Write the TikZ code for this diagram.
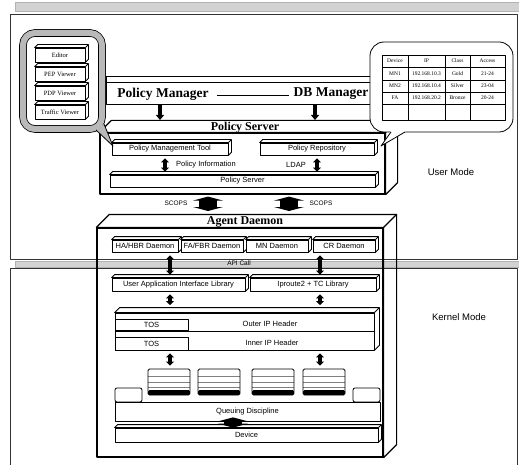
\documentclass[tikz,border=0pt]{standalone}
\usepackage{fontspec}
\setmainfont{Liberation Serif}
\setsansfont{Liberation Sans}
\usetikzlibrary{arrows.meta, positioning, calc}

% top and side faces of a flat 3D box drawn round a node
\newcommand\slabfaces[3][thick,fill=white]{%
  \draw[#1] (#2.north west) -- ++(#3,#3) -- ([shift={(#3,#3)}]#2.north east)
    -- ([shift={(#3,#3)}]#2.south east) -- (#2.south east) -- (#2.north east) -- cycle;
  \draw[#1] (#2.north east) -- ++(#3,#3);}

\tikzset{
  slab/.style={draw, thick, fill=white, inner sep=0pt, font=\sffamily\fontsize{7.5}{8}\selectfont},
  viewer/.style={draw, thick, fill=white, inner sep=0pt, minimum width=50pt, minimum height=14pt,
    font=\fontsize{6.5}{7}\selectfont},
  head/.style={inner sep=0pt, font=\bfseries\fontsize{12}{13}\selectfont},
  lbl/.style={inner sep=1pt, font=\sffamily\fontsize{7.5}{8}\selectfont},
  cell/.style={inner sep=0pt, font=\fontsize{5.5}{6}\selectfont},
  band/.style={fill=gray!35, draw=gray!60},
  updown/.style={{Triangle[width=8pt,length=4pt]}-{Triangle[width=8pt,length=4pt]},
    line width=3.5pt, shorten <=3pt, shorten >=3pt},
  down/.style={-{Triangle[width=8pt,length=5pt]}, line width=3.5pt},
  wide/.style={{Triangle[width=30pt,length=4pt]}-{Triangle[width=30pt,length=4pt]},
    line width=18pt, shorten <=2pt, shorten >=2pt},
  queue/.style={draw, thick, fill=white, rounded corners=1.5pt, minimum width=42pt,
    minimum height=26pt, inner sep=0pt,
    path picture={
      \foreach \f in {0.3,0.5,0.7}
        \draw[gray] ($(path picture bounding box.north west)!\f!(path picture bounding box.south west)$)
          -- ($(path picture bounding box.north east)!\f!(path picture bounding box.south east)$);
      \fill[black] ($(path picture bounding box.south west)+(0,5pt)$) rectangle (path picture bounding box.south east);}}
}

\begin{document}
\begin{tikzpicture}[x=1pt, y=-1pt, line join=round]
  \useasboundingbox (0,0) rectangle (519,465);

  % user mode / kernel mode frames
  \draw[band] (15,2) rectangle (519,11);
  \draw[band] (15,261) rectangle (519,267);
  \draw[black!80] (10,259) |- (517,14) -- (517,259) -- cycle;
  \draw[black!80] (10,465) |- (517,268) -- (517,465);

  \coordinate (xa) at (160,0);
  \coordinate (xb) at (315,0);
  \coordinate (xc) at (165,0);
  \coordinate (xl) at (170,0);
  \coordinate (xr) at (320,0);
  \coordinate (xs1) at (208,0);
  \coordinate (xs2) at (289,0);
  \coordinate (xq) at (233,0);

  % policy manager
  \node[draw, thick, fill=white, minimum width=286pt, minimum height=28pt] (pm) at (249,90) {};
  \draw[thick] ([yshift=-7pt]pm.north west) -- ([yshift=-7pt]pm.north east);
  \node[head, font=\bfseries\fontsize{13.5}{14}\selectfont] (pmtxt) at (163,94) {Policy Manager};
  \node[head, font=\bfseries\fontsize{13.5}{14}\selectfont] (dbm) at (331,94) {DB Manager};
  \draw[thick, shorten <=8pt, shorten >=4pt] ([yshift=-1pt]pmtxt.east) -- ([yshift=-1pt]dbm.west);

  % policy server
  \node[draw, very thick, minimum width=285pt, minimum height=61pt] (ps) at (242.5,163.5) {};
  \slabfaces[very thick]{ps}{12pt}
  \node[head] (pstitle) at (245,127.5) {Policy Server};
  \coordinate (pstop) at (0,120);
  \draw[down] (pm.south -| xa) -- (pstop -| xa);
  \draw[down] (pm.south -| xb) -- (pstop -| xb);

  \node[slab, minimum width=116pt, minimum height=12pt] (pmt) at (170,149) {Policy Management Tool};
  \slabfaces{pmt}{3pt}
  \node[slab, minimum width=114pt, minimum height=12pt] (prep) at (317,149) {Policy Repository};
  \slabfaces{prep}{3pt}
  \node[slab, minimum width=265pt, minimum height=12pt] (psbar) at (242.5,181) {Policy Server};
  \slabfaces{psbar}{3pt}
  \node[lbl, anchor=west] (info) at (175,165) {Policy Information};
  \node[lbl, anchor=east] (ldap) at (307,165) {LDAP};
  \draw[updown] (pmt.south -| xc) -- (psbar.north -| xc);
  \draw[updown] (prep.south) -- (prep.south |- psbar.north);

  % viewers
  \node[draw, thick, double=gray!55, double distance=6pt, rounded corners=12pt, fill=white,
    minimum width=79pt, minimum height=96pt] (vw) at (62.5,81) {};
  \node[viewer] (ed) at (60,55) {Editor};
  \slabfaces{ed}{3pt}
  \node[viewer] (pep) at (60,74) {PEP Viewer};
  \slabfaces{pep}{3pt}
  \node[viewer] (pdp) at (60,93) {PDP Viewer};
  \slabfaces{pdp}{3pt}
  \node[viewer] (trf) at (60,112) {Traffic Viewer};
  \slabfaces{trf}{3pt}
  \filldraw[fill=gray!55, thick] (96,130) -- (113,146) -- (104,124);

  % repository table
  \node[draw, thick, fill=white, rounded corners=14pt, minimum width=143pt, minimum height=90pt] (bub) at (441.5,87) {};
  \fill[white] (391,131) -- (381,146) -- (406,131) -- cycle;
  \draw[thick] (391,132) -- (381,146) -- (405,132);
  \draw[thick] (382,55) rectangle (505,120);
  \foreach \y in {67,80,92,104} \draw (382,\y) -- (505,\y);
  \foreach \x in {408,445,470} \draw[thick] (\x,55) -- (\x,120);
  \foreach \r/\y/\va/\vb/\vc/\vd in {0/61/Device/IP/Class/Access,
      1/73.5/MN1/192.168.10.3/Gold/21-24, 2/86/MN2/192.168.10.4/Silver/23-04,
      3/98/FA/192.168.20.2/Bronze/20-24} {
    \node[cell] (dv\r) at (395,\y) {\va};
    \node[cell] (ip\r) at (426.5,\y) {\vb};
    \node[cell] (cl\r) at (457.5,\y) {\vc};
    \node[cell] (ac\r) at (487.5,\y) {\vd};
  }

  % agent daemon
  \node[lbl, font=\sffamily\fontsize{6.5}{7}\selectfont] (scopsl) at (176,203) {SCOPS};
  \node[lbl, font=\sffamily\fontsize{6.5}{7}\selectfont] (scopsr) at (321,203) {SCOPS};
  \node[draw, very thick, minimum width=286pt, minimum height=229pt] (ad) at (240,342.5) {};
  \slabfaces[very thick]{ad}{13pt}
  \node[head] (adtitle) at (245,221.5) {Agent Daemon};
  \coordinate (adtop) at (0,213);
  \draw[wide] (ps.south -| xs1) -- (adtop -| xs1);
  \draw[wide] (ps.south -| xs2) -- (adtop -| xs2);

  \node[slab, minimum width=66pt, minimum height=12pt] (ha) at (145,246) {HA/HBR Daemon};
  \slabfaces{ha}{3pt}
  \node[slab, minimum width=62pt, minimum height=12pt] (fa) at (212,246) {FA/FBR Daemon};
  \slabfaces{fa}{3pt}
  \node[slab, minimum width=62pt, minimum height=12pt] (mn) at (277,246) {MN Daemon};
  \slabfaces{mn}{3pt}
  \node[slab, minimum width=62pt, minimum height=12pt] (cr) at (344,246) {CR Daemon};
  \slabfaces{cr}{3pt}
  \node[lbl, font=\sffamily\fontsize{6.5}{7}\selectfont] (api) at (239,263.5) {API Call};

  % kernel part
  \node[slab, minimum width=133pt, minimum height=13pt] (uail) at (178.5,284.5) {User Application Interface Library};
  \slabfaces{uail}{3pt}
  \node[slab, minimum width=126pt, minimum height=13pt] (iptc) at (313,284.5) {Iproute2 + TC Library};
  \slabfaces{iptc}{3pt}
  \draw[updown] (ha.south -| xl) -- (uail.north -| xl);
  \draw[updown] (cr.south -| xr) -- (iptc.north -| xr);

  \node[slab, minimum width=259pt, minimum height=37pt] (hdr) at (244.5,331.5) {};
  \slabfaces{hdr}{5pt}
  \draw[thick] (hdr.west) -- (hdr.east);
  \node[slab, thin, minimum width=73pt, minimum height=11pt] (tos1) at (151.5,324.5) {TOS};
  \node[slab, thin, minimum width=73pt, minimum height=13pt] (tos2) at (151.5,343.5) {TOS};
  \node[lbl] (outer) at (270,324) {Outer IP Header};
  \node[lbl] (inner) at (272,343) {Inner IP Header};
  \coordinate (hdrtop) at (0,308);
  \draw[updown] (uail.south -| xl) -- (hdrtop -| xl);
  \draw[updown] (iptc.south -| xr) -- (hdrtop -| xr);

  \foreach \n/\x in {1/169, 2/219, 3/273, 4/324}
    \node[queue] (q\n) at (\x,382) {};
  \draw[updown] (hdr.south -| xl) -- (q1.north -| xl);
  \draw[updown] (hdr.south -| xr) -- (q4.north -| xr);

  \node[slab, rounded corners=2pt, minimum width=27pt, minimum height=14pt] (qdl) at (128.5,395) {};
  \node[slab, rounded corners=2pt, minimum width=27pt, minimum height=14pt] (qdr) at (366.5,395) {};
  \node[slab, minimum width=265pt, minimum height=19pt] (qd) at (247.5,411.5) {Queuing Discipline};
  \node[slab, minimum width=263pt, minimum height=14pt] (dev) at (246.5,435) {Device};
  \slabfaces{dev}{3pt}
  \draw[wide, shorten <=-4pt, shorten >=0pt] (qd.south -| xq) -- (dev.north -| xq);

  % modes
  \node[lbl, font=\sffamily\fontsize{9.5}{10}\selectfont] (um) at (451,172) {User Mode};
  \node[lbl, font=\sffamily\fontsize{9.5}{10}\selectfont] (km) at (459,317) {Kernel Mode};
\end{tikzpicture}
\end{document}
